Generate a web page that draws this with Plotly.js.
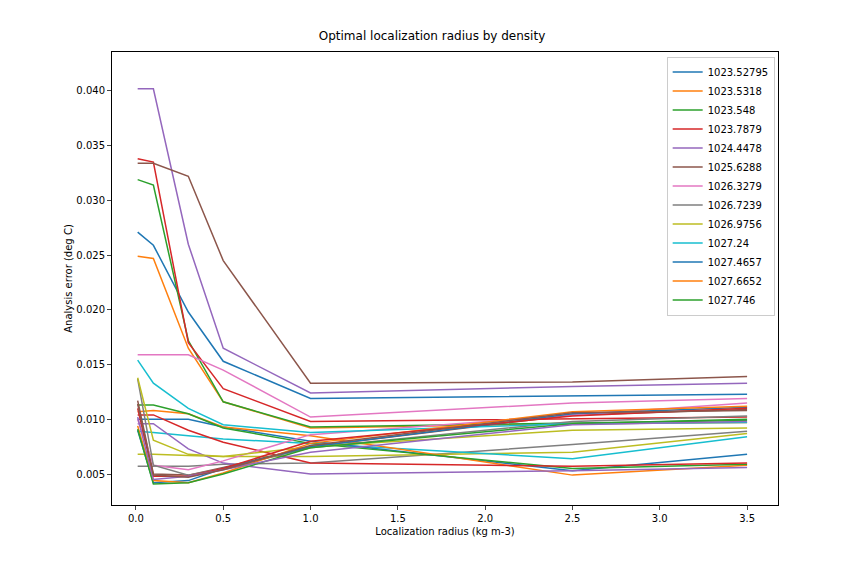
<!DOCTYPE html>
<html>
<head>
<script src="https://cdn.plot.ly/plotly-3.0.1.min.js"></script>
<style>body{margin:0}</style>
</head>
<body>
<div id="plot" style="width:864px;height:576px"></div>
<script>
// Localization radius values (x) and density labels
var radius = [0.01, 0.1, 0.3, 0.5, 1.0, 2.5, 3.5];
var densities = ['1023.52795', '1023.5318', '1023.548', '1023.7879', '1024.4478', '1025.6288',
  '1026.3279', '1026.7239', '1026.9756', '1027.24', '1027.4657', '1027.6652', '1027.746'];

// first set (labelled)
var errA = [
  [0.0271, 0.0259, 0.0198, 0.0153, 0.0119, 0.0121, 0.0123],
  [0.0249, 0.0247, 0.0165, 0.0116, 0.0092, 0.0096, 0.0097],
  [0.0319, 0.0314, 0.0172, 0.0116, 0.0093, 0.0097, 0.0099],
  [0.0338, 0.0335, 0.0170, 0.0128, 0.0098, 0.0100, 0.0102],
  [0.0402, 0.0402, 0.0260, 0.0165, 0.0124, 0.0130, 0.0133],
  [0.0334, 0.0334, 0.0322, 0.0245, 0.0133, 0.0134, 0.0139],
  [0.0159, 0.0159, 0.0159, 0.0145, 0.0102, 0.0115, 0.0119],
  [0.0057, 0.0057, 0.0057, 0.0059, 0.0060, 0.0077, 0.0089],
  [0.0068, 0.0068, 0.0067, 0.0066, 0.0066, 0.0070, 0.0087],
  [0.0089, 0.0088, 0.0085, 0.0082, 0.0078, 0.0064, 0.0084],
  [0.0100, 0.0100, 0.0100, 0.0093, 0.0080, 0.0053, 0.0068],
  [0.0107, 0.0108, 0.0105, 0.0093, 0.0085, 0.0049, 0.0058],
  [0.0113, 0.0113, 0.0105, 0.0092, 0.0078, 0.0055, 0.0059]
];
// second set (unlabelled)
var errB = [
  [0.0104, 0.0104, 0.0090, 0.0079, 0.0060, 0.0057, 0.0060],
  [0.0096, 0.0096, 0.0073, 0.0060, 0.0050, 0.0053, 0.0056],
  [0.0117, 0.0050, 0.0049, 0.0056, 0.0075, 0.0104, 0.0109],
  [0.0100, 0.0058, 0.0054, 0.0062, 0.0086, 0.0104, 0.0115],
  [0.0137, 0.0058, 0.0049, 0.0055, 0.0074, 0.0098, 0.0103],
  [0.0138, 0.0081, 0.0068, 0.0066, 0.0075, 0.0090, 0.0092],
  [0.0154, 0.0133, 0.0110, 0.0095, 0.0088, 0.0096, 0.0097],
  [0.0090, 0.0042, 0.0044, 0.0055, 0.0075, 0.0105, 0.0111],
  [0.0094, 0.0044, 0.0042, 0.0051, 0.0078, 0.0107, 0.0112],
  [0.0091, 0.0041, 0.0042, 0.0050, 0.0074, 0.0096, 0.0100],
  [0.0110, 0.0048, 0.0048, 0.0055, 0.0080, 0.0103, 0.0110],
  [0.0102, 0.0045, 0.0048, 0.0054, 0.0070, 0.0095, 0.0098],
  [0.0114, 0.0049, 0.0047, 0.0054, 0.0076, 0.0106, 0.0108]
];

var colors = ['#1f77b4', '#ff7f0e', '#2ca02c', '#d62728', '#9467bd',
  '#8c564b', '#e377c2', '#7f7f7f', '#bcbd22', '#17becf'];

var data = [];
errA.forEach(function (y, i) {
  data.push({x: radius, y: y, mode: 'lines', name: densities[i],
    line: {color: colors[i % 10], width: 1.5}});
});
errB.forEach(function (y, i) {
  data.push({x: radius, y: y, mode: 'lines', showlegend: false,
    line: {color: colors[(i + 13) % 10], width: 1.5}});
});

var layout = {
  width: 864, height: 576,
  margin: {l: 112, r: 86, t: 52, b: 71},
  font: {family: 'DejaVu Sans', size: 10, color: '#000'},
  title: {text: 'Optimal localization radius by density', font: {size: 12}, y: 0.93, yanchor: 'bottom'},
  xaxis: {title: {text: 'Localization radius (kg m-3)', font: {size: 10}, standoff: 4},
    range: [-0.137, 3.677], tickvals: [0, 0.5, 1, 1.5, 2, 2.5, 3, 3.5],
    ticktext: ['0.0', '0.5', '1.0', '1.5', '2.0', '2.5', '3.0', '3.5'],
    showgrid: false, zeroline: false, showline: true, mirror: true, linecolor: '#000',
    ticks: 'outside', ticklen: 4},
  yaxis: {title: {text: 'Analysis error (deg C)', font: {size: 10}},
    range: [0.00217, 0.04356], tickvals: [0.005, 0.01, 0.015, 0.02, 0.025, 0.03, 0.035, 0.04],
    tickformat: '.3f',
    showgrid: false, zeroline: false, showline: true, mirror: true, linecolor: '#000',
    ticks: 'outside', ticklen: 4},
  legend: {x: 0.995, y: 0.99, xanchor: 'right', yanchor: 'top',
    bordercolor: '#ccc', borderwidth: 1, bgcolor: 'rgba(255,255,255,0.8)', font: {size: 10}},
  plot_bgcolor: '#fff', paper_bgcolor: '#fff'
};
Plotly.newPlot('plot', data, layout, {displayModeBar: false});
</script>
</body>
</html>
